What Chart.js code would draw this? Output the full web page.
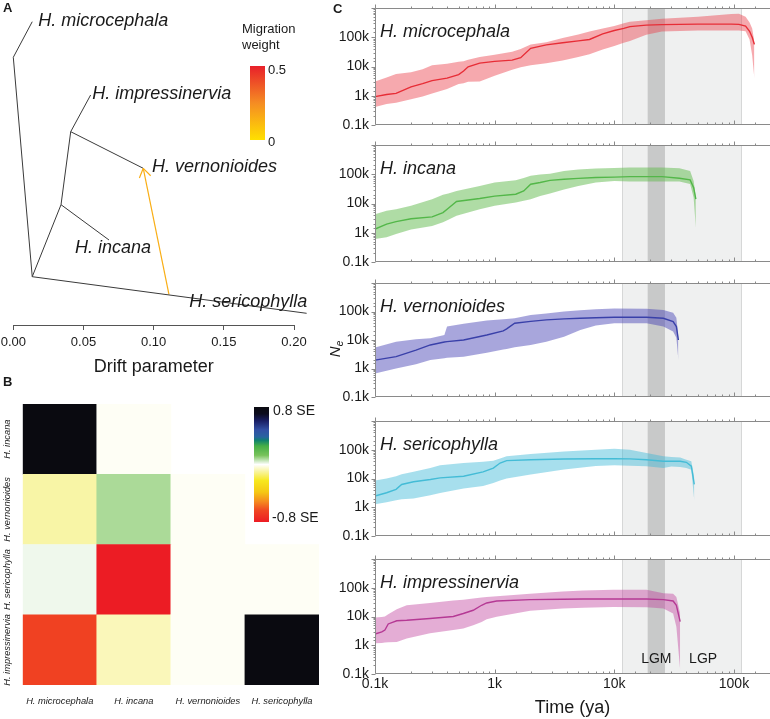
<!DOCTYPE html>
<html><head><meta charset="utf-8">
<script src="https://cdn.jsdelivr.net/npm/chart.js@4.4.1/dist/chart.umd.min.js"></script>
<style>
html,body{margin:0;padding:0;background:#fff;overflow:hidden}
#wrap{position:relative;width:770px;height:719px;overflow:hidden}
canvas{position:absolute}
</style></head>
<body><div id="wrap"></div>
<script>
// ================= DATA =================
// Panel A: TreeMix tree (x = drift parameter, y = vertical ordinate of the drawing)
const treeNodeNames  = ['root','n1','H. microcephala','n2','n3','H. impressinervia','H. vernonioides','H. incana','H. sericophylla'];
const treeNodeDrift  = [0.0135, 0.0, 0.0135, 0.0340, 0.0409, 0.0551, 0.0926, 0.0682, 0.2090];
const treeNodeOrder  = [276.7, 57.3, 21.7, 204.7, 131.7, 95.0, 168.3, 240.0, 313.3];
const treeEdges      = [[0,1],[1,2],[0,3],[3,4],[4,5],[4,6],[3,7],[0,8]];
const tipNodes       = [2,5,6,7,8];
const migrationFromDrift = 0.1109, migrationFromOrder = 294.3, migrationToNode = 6;
const migrationWeight = 0.15;
const driftTicks = [0, 0.05, 0.10, 0.15, 0.20];

// Panel B: residual fit (SE units)
const resCols = ['H. microcephala','H. incana','H. vernonioides','H. sericophylla'];
const resRows = ['H. incana','H. vernonioides','H. sericophylla','H. impressinervia'];
const resIncana         = [0.8, -0.01, null, null];
const resVernonioides   = [-0.09, 0.08, -0.01, null];
const resSericophylla   = [0.015, -0.8, -0.01, -0.01];
const resImpressinervia = [-0.66, -0.07, -0.01, 0.8];
const resMax = 0.8, resMin = -0.8;

// Panel C: Ne through time
const timeMicrocephala   = [100,125,150,200,250,300,400,500,550,600,750,1000,1400,1650,2000,2700,3700,5000,6200,8000,10000,12000,13500,18500,25000,50000,95000,110000,125000,135000,142000,148000];
const medianMicrocephala = [930,1100,1200,2000,2600,3300,4000,5300,7000,9800,13000,15000,16500,20000,42000,55000,65000,75000,84000,130000,170000,200000,230000,260000,270000,280000,280000,275000,240000,160000,100000,57000];
const lowerMicrocephala  = [410,520,580,760,950,1200,1700,2500,2700,3000,3100,4800,7800,9500,11000,13000,16000,21000,26000,38000,50000,65000,74000,122000,158000,170000,170000,170000,160000,84000,24000,4000];
const upperMicrocephala  = [3100,4200,5500,6300,8000,11000,12500,14500,15000,17000,21000,25000,32000,40000,57000,68000,95000,125000,158000,200000,242000,300000,337000,380000,433000,500000,620000,635000,500000,320000,200000,70000];

const timeIncana   = [100,125,150,200,300,370,410,480,750,1000,1500,1750,2000,2400,2900,3800,5000,7000,10000,13500,25000,35000,43000,46000,48000];
const medianIncana = [1330,1970,2400,3000,3500,4900,6900,11700,14800,17800,20800,27000,45600,52000,62000,67500,72000,77000,80000,83000,83000,73000,64000,35000,14000];
const lowerIncana  = [608,700,900,1300,1700,2300,2800,3800,6400,8300,10800,12500,14000,18000,22000,30000,40000,52000,59000,56000,56000,56000,46000,16000,1500];
const upperIncana  = [4300,5600,6400,8300,14000,20000,22000,27000,40000,52000,62000,75000,88000,98000,105000,130000,145000,156000,165000,170000,170000,160000,130000,59000,16000];

const timeVernonioides   = [100,150,220,290,380,400,550,860,1180,1260,1470,2000,2700,3800,5200,7000,10000,18600,25700,31000,33000,34300];
const medianVernonioides = [1970,2600,4400,6700,8500,8800,10000,15000,21000,24500,38800,45000,50800,55000,58000,60000,63000,63000,58000,44000,29600,10000];
const lowerVernonioides  = [668,1000,1400,2000,2300,2400,2600,3600,4600,4800,5600,6700,8700,13000,22500,32000,38800,38800,29600,19700,12000,2000];
const upperVernonioides  = [5500,8700,10600,11500,15000,30000,37000,48000,53000,55000,58000,76000,85000,100000,110000,120000,128000,125000,112000,90000,60000,13000];

const timeSericophylla   = [100,125,150,167,210,290,350,550,800,975,1110,1260,2000,3800,7000,10000,13500,18600,25700,30000,35500,40000,44000,46600];
const medianSericophylla = [2460,3200,4200,6200,7700,9200,10500,12000,17000,23000,34600,41700,45000,47600,48500,49000,48000,45000,39600,39600,39600,36600,26700,6200];
const lowerSericophylla  = [1270,1500,1750,1900,2000,2600,3100,4500,5500,7000,8500,10000,13700,20500,27000,28800,28000,26700,23300,26000,25000,23300,20000,1650];
const upperSericophylla  = [8500,10000,12000,14000,17000,23300,28800,34600,38000,41700,50000,59000,70900,87600,100000,108000,100000,76700,58900,56000,54000,45000,39600,10500];

const timeImpressinervia   = [100,114,121,129,152,184,288,451,547,662,778,858,1040,1980,3700,5500,9800,18600,25700,31000,33000,35500];
const medianImpressinervia = [2460,2900,3400,5500,7100,7400,8500,10000,12700,16500,24600,29600,34700,38600,40000,40700,40700,40700,38600,34700,24600,6600];
const lowerImpressinervia  = [1170,1200,1250,1280,1300,1700,2600,3400,3800,5000,6500,8000,9800,15700,18900,20000,21600,21000,18900,12700,4400,140];
const upperImpressinervia  = [9300,9600,10000,12000,18000,24600,29600,36000,38600,42000,46000,48000,50300,62000,74700,80000,85000,85000,65000,62000,47700,12700];

const lgpRange = [11700, 115000];   // Last Glacial Period
const lgmRange = [19000, 26500];    // Last Glacial Maximum
const timeMin = 100, timeMax = 200000, neMin = 100, neMax = 1000000;
const tickLabelK = {100:'0.1k', 1000:'1k', 10000:'10k', 100000:'100k'};

// ================= STYLE / HELPERS =================
const FONT = '"Liberation Sans", Arial, Helvetica, sans-serif';
Chart.defaults.font.family = FONT;
Chart.defaults.color = '#1a1a1a';
const TXT = '#1a1a1a';
const wrap = document.getElementById('wrap');
function mkCanvas(left, top, w, h) {
  const c = document.createElement('canvas');
  c.width = w; c.height = h;
  c.style.left = left + 'px'; c.style.top = top + 'px';
  c.style.width = w + 'px'; c.style.height = h + 'px';
  wrap.appendChild(c);
  return c;
}
function lerpStops(stops, f) {
  f = Math.max(0, Math.min(1, f));
  for (let i = 1; i < stops.length; i++) {
    if (f <= stops[i][0]) {
      const [f0, c0] = stops[i-1], [f1, c1] = stops[i];
      const t = (f - f0) / (f1 - f0 || 1);
      return c0.map((v, k) => Math.round(v + (c1[k] - v) * t));
    }
  }
  return stops[stops.length-1][1];
}
const resStops = [[0,[10,10,16]],[0.06,[12,12,30]],[0.12,[25,30,100]],[0.2,[50,80,165]],[0.26,[40,100,160]],[0.29,[15,130,110]],[0.34,[70,175,70]],[0.42,[120,195,90]],[0.5,[255,255,255]],[0.56,[248,244,160]],[0.64,[247,232,30]],[0.74,[245,200,20]],[0.82,[245,140,30]],[0.9,[240,70,34]],[1,[236,28,36]]];
function resColor(v) {
  if (v === null) return 'rgba(0,0,0,0)';
  const c = lerpStops(resStops, (resMax - v) / (resMax - resMin));
  return `rgb(${c[0]},${c[1]},${c[2]})`;
}
const migStops = [[0,[255,224,0]],[0.5,[245,140,35]],[1,[232,32,42]]];
function migColor(w) { const c = lerpStops(migStops, w / 0.5); return `rgb(${c[0]},${c[1]},${c[2]})`; }

// ================= PANEL A =================
const tipLabelOffset = {2:[6,4.3], 5:[1.6,4.3], 6:[8.7,3.7], 7:[-34,13], 8:[-117.4,-6.3]};
const treeDatasets = treeEdges.map(([a,b]) => ({
  data: [{x: treeNodeDrift[a], y: treeNodeOrder[a]}, {x: treeNodeDrift[b], y: treeNodeOrder[b]}],
  borderColor: '#3a3a3a', borderWidth: 1, pointRadius: 0, clip: false, fill: false
}));
treeDatasets.push({
  data: [{x: migrationFromDrift, y: migrationFromOrder}, {x: treeNodeDrift[migrationToNode], y: treeNodeOrder[migrationToNode]}],
  borderColor: migColor(migrationWeight), borderWidth: 1.2, pointRadius: 0, clip: false, fill: false
});
const treePlugin = {
  id: 'treePlugin',
  afterDraw(chart) {
    const {ctx, scales:{x, y}} = chart;
    ctx.save();
    const x0 = x.getPixelForValue(migrationFromDrift), y0 = y.getPixelForValue(migrationFromOrder);
    const x1 = x.getPixelForValue(treeNodeDrift[migrationToNode]), y1 = y.getPixelForValue(treeNodeOrder[migrationToNode]);
    const ang = Math.atan2(y0 - y1, x0 - x1);
    ctx.strokeStyle = migColor(migrationWeight); ctx.lineWidth = 1.2;
    ctx.beginPath();
    for (const s of [-1, 1]) {
      const a = ang + s * 0.58;
      ctx.moveTo(x1, y1); ctx.lineTo(x1 + 10.5 * Math.cos(a), y1 + 10.5 * Math.sin(a));
    }
    ctx.stroke();
    ctx.fillStyle = TXT; ctx.font = 'italic 18px ' + FONT; ctx.textBaseline = 'alphabetic'; ctx.textAlign = 'left';
    for (const n of tipNodes) {
      const px = x.getPixelForValue(treeNodeDrift[n]), py = y.getPixelForValue(treeNodeOrder[n]);
      const o = tipLabelOffset[n];
      ctx.fillText(treeNodeNames[n], px + o[0], py + o[1]);
    }
    ctx.font = '13px ' + FONT;
    ctx.fillText('Migration', 242, 33);
    ctx.fillText('weight', 242, 49);
    const g = ctx.createLinearGradient(0, 66, 0, 140);
    g.addColorStop(0, migColor(0.5)); g.addColorStop(0.5, migColor(0.25)); g.addColorStop(1, migColor(0));
    ctx.fillStyle = g; ctx.fillRect(250, 66, 15, 74);
    ctx.fillStyle = TXT; ctx.textBaseline = 'middle';
    ctx.fillText('0.5', 268, 70); ctx.fillText('0', 268, 142);
    ctx.font = 'bold 13px ' + FONT; ctx.fillText('A', 3, 8);
    ctx.restore();
  }
};
new Chart(mkCanvas(0, 0, 330, 378), {
  type: 'line',
  data: {datasets: treeDatasets},
  options: {
    responsive: false, animation: false, devicePixelRatio: 1,
    layout: {padding: {left: 13.3, right: 36, top: 0, bottom: 0}},
    plugins: {legend: {display: false}, tooltip: {enabled: false}},
    scales: {
      x: {type: 'linear', min: 0, max: 0.2,
          afterBuildTicks: s => { s.ticks = driftTicks.map(v => ({value: v})); },
          ticks: {callback: v => Number(v).toFixed(2), font: {size: 13}, padding: 5, color: TXT, maxRotation: 0, autoSkip: false},
          grid: {drawOnChartArea: false, drawTicks: true, tickLength: 5, color: '#555'},
          border: {color: '#555'},
          title: {display: true, text: 'Drift parameter', font: {size: 18}, padding: {top: 0, bottom: 0}, color: TXT},
          afterFit(s) { s.height = 53; s.paddingLeft = 0; s.paddingRight = 0; }},
      y: {type: 'linear', min: 0, max: 325, reverse: true, display: false}
    }
  },
  plugins: [treePlugin]
});

// ================= PANEL B =================
const rowArrays = [resIncana, resVernonioides, resSericophylla, resImpressinervia];
const heatDatasets = [];
for (let r = rowArrays.length - 1; r >= 0; r--) {
  heatDatasets.push({
    label: resRows[r],
    data: rowArrays[r].map(() => 1),
    backgroundColor: rowArrays[r].map(resColor),
    borderWidth: 0, barPercentage: 1, categoryPercentage: 1
  });
}
const heatPlugin = {
  id: 'heatPlugin',
  afterDraw(chart) {
    const {ctx, scales:{y}} = chart;
    ctx.save();
    ctx.fillStyle = TXT; ctx.font = 'italic 9.3px ' + FONT; ctx.textAlign = 'center'; ctx.textBaseline = 'middle';
    resRows.forEach((name, i) => {
      const cy = y.getPixelForValue(resRows.length - i - 0.5);
      ctx.save(); ctx.translate(7, cy); ctx.rotate(-Math.PI / 2); ctx.fillText(name, 0, 0); ctx.restore();
    });
    const top = 32, bot = 147;
    const g = ctx.createLinearGradient(0, top, 0, bot);
    resStops.forEach(([f, c]) => g.addColorStop(f, `rgb(${c[0]},${c[1]},${c[2]})`));
    ctx.fillStyle = g; ctx.fillRect(254, top, 15, bot - top);
    ctx.fillStyle = TXT; ctx.font = '14px ' + FONT; ctx.textAlign = 'left';
    ctx.fillText(resMax + ' SE', 273, 36);
    ctx.fillText(resMin + ' SE', 272, 143);
    ctx.font = 'bold 13px ' + FONT; ctx.fillText('B', 3, 7);
    ctx.restore();
  }
};
new Chart(mkCanvas(0, 375, 330, 344), {
  type: 'bar',
  data: {labels: resCols, datasets: heatDatasets},
  options: {
    responsive: false, animation: false, devicePixelRatio: 1,
    layout: {padding: {left: 22.7, right: 11, top: 29, bottom: 0}},
    plugins: {legend: {display: false}, tooltip: {enabled: false}},
    scales: {
      x: {stacked: true, grid: {display: false, drawTicks: false}, border: {display: false},
          ticks: {font: {size: 9.3, style: 'italic'}, color: TXT, padding: 11, maxRotation: 0, autoSkip: false},
          afterFit(s) { s.height = 34; s.paddingLeft = 0; s.paddingRight = 0; }},
      y: {stacked: true, min: 0, max: 4, display: false}
    }
  },
  plugins: [heatPlugin]
});

// ================= PANEL C =================
const species = [
  {name: 'H. microcephala', t: timeMicrocephala, med: medianMicrocephala, lo: lowerMicrocephala, hi: upperMicrocephala, line: '#e41e26', band: 'rgba(236,64,76,0.45)'},
  {name: 'H. incana', t: timeIncana, med: medianIncana, lo: lowerIncana, hi: upperIncana, line: '#47b546', band: 'rgba(95,185,75,0.5)'},
  {name: 'H. vernonioides', t: timeVernonioides, med: medianVernonioides, lo: lowerVernonioides, hi: upperVernonioides, line: '#2f3f9f', band: 'rgba(70,65,180,0.47)'},
  {name: 'H. sericophylla', t: timeSericophylla, med: medianSericophylla, lo: lowerSericophylla, hi: upperSericophylla, line: '#4bbfd6', band: 'rgba(60,185,215,0.45)'},
  {name: 'H. impressinervia', t: timeImpressinervia, med: medianImpressinervia, lo: lowerImpressinervia, hi: upperImpressinervia, line: '#ae3790', band: 'rgba(190,60,155,0.42)'}
];
const panelTops = [8, 145, 283, 421, 559];
const panelBottoms = [125, 262, 397, 536, 674];
const isMajor = v => Math.abs(Math.log10(v) - Math.round(Math.log10(v))) < 1e-9;

const nePlugin = {
  id: 'nePlugin',
  beforeDraw(chart, args, opts) {
    const {ctx, chartArea: a, scales: {x}} = chart;
    ctx.save();
    const l1 = x.getPixelForValue(lgpRange[0]), l2 = x.getPixelForValue(lgpRange[1]);
    ctx.fillStyle = '#eff0f0'; ctx.fillRect(l1, a.top, l2 - l1, a.bottom - a.top);
    ctx.strokeStyle = '#d6d7d7'; ctx.lineWidth = 1; ctx.beginPath();
    for (const px of [l1, l2]) { ctx.moveTo(Math.round(px) + 0.5, a.top); ctx.lineTo(Math.round(px) + 0.5, a.bottom); }
    ctx.stroke();
    const g1 = x.getPixelForValue(lgmRange[0]), g2 = x.getPixelForValue(lgmRange[1]);
    ctx.fillStyle = '#c8c9c9'; ctx.fillRect(g1, a.top, g2 - g1, a.bottom - a.top);
    ctx.restore();
  },
  afterDraw(chart, args, opts) {
    const {ctx, chartArea: a, scales: {x, y}} = chart;
    ctx.save();
    ctx.strokeStyle = '#8a8a8a'; ctx.lineWidth = 1;
    const L = Math.round(a.left) + 0.5, T = Math.round(a.top) + 0.5, B = Math.round(a.bottom) - 0.5, R = a.right;
    ctx.beginPath();
    ctx.moveTo(L, T); ctx.lineTo(R, T);
    ctx.moveTo(L, B); ctx.lineTo(R, B);
    ctx.moveTo(L, T); ctx.lineTo(L, B);
    for (const tk of x.ticks) {
      const px = Math.round(x.getPixelForValue(tk.value)) + 0.5;
      if (px < a.left || px > a.right + 0.6) continue;
      const len = isMajor(tk.value) ? 4 : 2;
      ctx.moveTo(px, B); ctx.lineTo(px, B - len);
      ctx.moveTo(px, T); ctx.lineTo(px, T - len);
    }
    for (const tk of y.ticks) {
      const py = Math.round(y.getPixelForValue(tk.value)) + 0.5;
      const len = isMajor(tk.value) ? 4 : 2;
      ctx.moveTo(L, py); ctx.lineTo(L - len, py);
    }
    ctx.stroke();
    ctx.fillStyle = TXT; ctx.textAlign = 'left'; ctx.textBaseline = 'alphabetic';
    ctx.font = 'italic 18px ' + FONT;
    ctx.fillText(opts.name, a.left + 5, a.top + 29);
    if (opts.panelLetter) { ctx.font = 'bold 13px ' + FONT; ctx.textBaseline = 'middle'; ctx.fillText(opts.panelLetter, 3, 9); }
    if (opts.glacialLabels) {
      ctx.font = '14px ' + FONT; ctx.textAlign = 'center'; ctx.textBaseline = 'middle';
      const cy = a.bottom - 15;
      ctx.fillText('LGM', x.getPixelForValue(Math.sqrt(lgmRange[0] * lgmRange[1])), cy);
      ctx.fillText('LGP', x.getPixelForValue(Math.sqrt(lgmRange[1] * lgpRange[1])), cy);
    }
    if (opts.neLabel) {
      const cx = 336 - 330, cy = 349 - (panelTops[2] - 8);
      ctx.translate(cx, cy); ctx.rotate(-Math.PI / 2);
      ctx.textAlign = 'left'; ctx.textBaseline = 'alphabetic';
      ctx.font = 'italic 15px ' + FONT; const wN = ctx.measureText('N').width;
      ctx.font = 'italic 10px ' + FONT; const wE = ctx.measureText('e').width;
      const sx = -(wN + wE) / 2;
      ctx.font = 'italic 15px ' + FONT; ctx.fillText('N', sx, 4);
      ctx.font = 'italic 10px ' + FONT; ctx.fillText('e', sx + wN, 7);
    }
    ctx.restore();
  }
};

species.forEach((sp, i) => {
  const last = i === species.length - 1;
  const padTop = 8, axisH = last ? 45 : 3, extra = last ? 45 : 11;
  const top = panelTops[i], bottom = panelBottoms[i];
  const canvas = mkCanvas(330, top - padTop, 440, bottom - top + padTop + extra);
  const pts = arr => sp.t.map((t, k) => ({x: t, y: arr[k]}));
  new Chart(canvas, {
    type: 'line',
    data: {datasets: [
      {data: pts(sp.lo), borderWidth: 0, borderColor: 'rgba(0,0,0,0)', pointRadius: 0, fill: false},
      {data: pts(sp.hi), borderWidth: 0, borderColor: 'rgba(0,0,0,0)', pointRadius: 0, fill: '-1', backgroundColor: sp.band},
      {data: pts(sp.med), borderWidth: 1.4, borderColor: sp.line, pointRadius: 0, fill: false}
    ]},
    options: {
      responsive: false, animation: false, devicePixelRatio: 1,
      layout: {padding: {left: 0, right: 0, top: padTop, bottom: extra - axisH}},
      plugins: {legend: {display: false}, tooltip: {enabled: false},
        nePlugin: {name: sp.name, panelLetter: i === 0 ? 'C' : '', glacialLabels: last, neLabel: i === 2}},
      scales: {
        x: {type: 'logarithmic', min: timeMin, max: timeMax,
            grid: {display: false, drawTicks: false}, border: {display: false},
            ticks: {display: last, autoSkip: false, maxRotation: 0, padding: 2, font: {size: 14}, color: TXT,
                    callback: v => tickLabelK[v] || ''},
            title: {display: last, text: 'Time (ya)', font: {size: 18}, padding: {top: 0, bottom: 0}, color: TXT},
            afterFit(s) { s.height = axisH; s.paddingLeft = 0; s.paddingRight = 0; s.paddingTop = 0; s.paddingBottom = 0; }},
        y: {type: 'logarithmic', min: neMin, max: neMax,
            grid: {display: false, drawTicks: false}, border: {display: false},
            ticks: {autoSkip: false, padding: 6, font: {size: 14}, color: TXT, callback: v => tickLabelK[v] || ''},
            afterFit(s) { s.width = 45; s.paddingTop = 0; s.paddingBottom = 0; s.paddingLeft = 0; s.paddingRight = 0; }}
      }
    },
    plugins: [nePlugin]
  });
});
</script>
</body></html>
